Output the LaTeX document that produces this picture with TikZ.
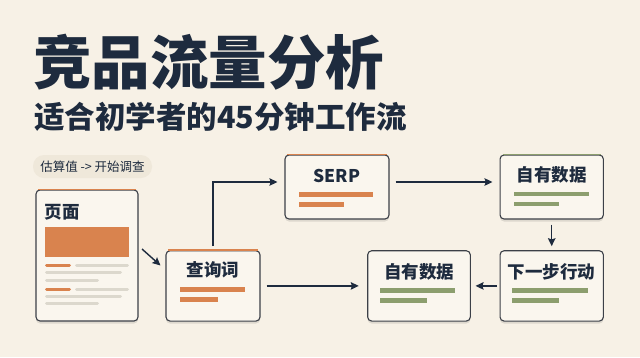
\documentclass[tikz,border=0pt]{standalone}
\usepackage{fontspec}
\setmainfont{Noto Sans CJK SC}
\usetikzlibrary{arrows.meta,shadows,calc}
\definecolor{bgc}{HTML}{F7F1E6}
\definecolor{navy}{HTML}{1E2B3E}
\definecolor{orng}{HTML}{D9834E}
\definecolor{grn}{HTML}{8C9E6E}
\definecolor{lgray}{HTML}{DCD8CD}
\definecolor{boxfill}{HTML}{FAF6EE}
\definecolor{boxline}{HTML}{3C4048}
\definecolor{pillc}{HTML}{EFE8DA}
\tikzset{
  x=1pt,y=-1pt,
  card/.style={draw=boxline,line width=1.1pt,rounded corners=4pt,fill=boxfill,
    drop shadow={shadow xshift=0pt,shadow yshift=-2.5pt,opacity=0.10,fill=black}},
  cardtitle/.style={font=\bfseries\fontsize{17.5}{20}\selectfont,text=navy,inner sep=0pt},
  flow/.style={draw=navy,line width=1.4pt,-{Stealth[length=8pt,width=7.5pt,inset=1.2pt]}},
  bar/.style={line width=4.8pt},
  thin/.style={line width=3pt,line cap=round},
}
\begin{document}
\begin{tikzpicture}
\useasboundingbox[fill=bgc] (0,0) rectangle (640,357);
% titles
\node[anchor=base west,inner sep=0pt,text=navy,font=\bfseries\fontsize{58.5}{62}\selectfont] (title) at (33,84) {竞品流量分析};
\node[anchor=base west,inner sep=0pt,text=navy,font=\bfseries\fontsize{30.5}{34}\selectfont] (subtitle) at (34,128) {适合初学者的45分钟工作流};
% pill label
\node[fill=pillc,rounded corners=11pt,minimum width=119pt,minimum height=23pt,inner sep=0pt,text=navy,font=\fontsize{12.5}{14}\selectfont] (pill) at (92.5,166.5) {估算值 -> 开始调查};
% cards
\node[card,minimum width=102pt,minimum height=131pt,inner sep=0pt] (page) at (87,255.5) {};
\node[card,minimum width=94pt,minimum height=70.3pt,inner sep=0pt] (query) at (213,285.9) {};
\node[card,minimum width=104pt,minimum height=64pt,inner sep=0pt] (serp) at (337,187) {};
\node[card,minimum width=103.3pt,minimum height=64pt,inner sep=0pt] (own1) at (551.7,187) {};
\node[card,minimum width=103.3pt,minimum height=70.3pt,inner sep=0pt] (next) at (551.7,285.9) {};
\node[card,minimum width=102.6pt,minimum height=70.3pt,inner sep=0pt] (own2) at (419,285.9) {};
% accent top edges
\draw[orng,line width=1.6pt] ([xshift=3pt]page.north west) -- ([xshift=-3pt]page.north east);
\draw[orng,line width=1.6pt] ([xshift=3pt]query.north west) -- ([xshift=-3pt]query.north east);
\draw[orng,line width=1.6pt] ([xshift=3pt]serp.north west) -- ([xshift=-3pt]serp.north east);
\draw[grn,line width=1.6pt] ([xshift=3pt]own1.north west) -- ([xshift=-3pt]own1.north east);
% card titles
\node[cardtitle,anchor=west] (pageT) at (44.5,212.5) {页面};
\node[cardtitle] (queryT) at (213,270) {查询词};
\node[cardtitle] (serpT) at (337,175.5) {SERP};
\node[cardtitle] (own1T) at (551.7,175) {自有数据};
\node[cardtitle] (nextT) at (551.7,272) {下一步行动};
\node[cardtitle] (own2T) at (419,271.7) {自有数据};
% page contents
\fill[orng] (45,227) rectangle (129,257);
\draw[thin,orng] (46.5,265.7) -- (69.5,265.7);
\draw[thin,lgray] (76.5,265.7) -- (127.5,265.7);
\draw[thin,lgray] (46.5,272.8) -- (120.5,272.8);
\draw[thin,lgray] (46.5,280) -- (97.5,280);
\draw[thin,orng] (46.5,289) -- (69.5,289);
\draw[thin,lgray] (76.5,289) -- (127.5,289);
\draw[thin,lgray] (46.5,296) -- (120.5,296);
\draw[thin,lgray] (46.5,303.7) -- (97.5,303.7);
% bars
\draw[bar,orng] (180,289.3) -- (245,289.3);
\draw[bar,orng] (180,299.7) -- (218,299.7);
\draw[bar,orng] (299.3,194.3) -- (373.3,194.3);
\draw[bar,orng] (299.3,204.7) -- (344,204.7);
\draw[bar,grn] (514.3,194) -- (589,194);
\draw[bar,grn] (514.3,204) -- (559.3,204);
\draw[bar,grn] (512,290.3) -- (587.7,290.3);
\draw[bar,grn] (512,300.7) -- (558.7,300.7);
\draw[bar,grn] (380,290.3) -- (455.3,290.3);
\draw[bar,grn] (380,300.7) -- (426.7,300.7);
% connectors
\coordinate (pqs) at (142,249);
\coordinate (pqe) at (160.5,265.5);
\draw[flow] (pqs) -- (pqe);
\draw[flow,shorten <=4pt,shorten >=7pt] (query.north) |- ([yshift=5pt]serp.west);
\draw[flow,shorten <=6pt,shorten >=7pt] ([yshift=5pt]serp.east) -- ([yshift=5pt]own1.west);
\draw[flow,shorten <=5pt,shorten >=4pt] (own1.south) -- (next.north);
\draw[flow,shorten <=2.5pt,shorten >=4.7pt] (next.west) -- (own2.west -| own2.east);
\draw[flow,shorten <=6pt,shorten >=8.4pt] (query.east) -- (own2.west);
\end{tikzpicture}
\end{document}
